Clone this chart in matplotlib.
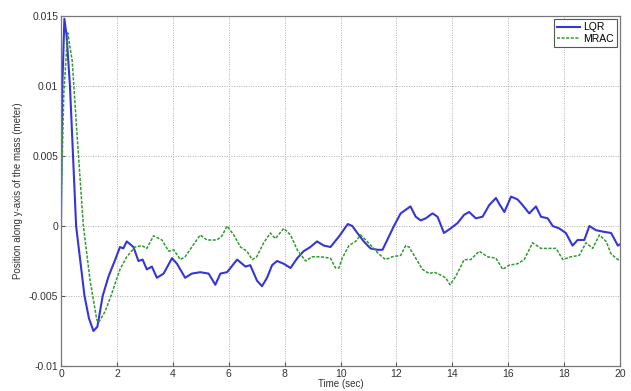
import numpy as np
import matplotlib
matplotlib.use('Agg')
import matplotlib.pyplot as plt
from matplotlib.ticker import FuncFormatter

plt.rcParams['font.family'] = ['Liberation Sans', 'DejaVu Sans']

# LQR response
t_lqr = [0.0, 0.04, 0.12, 0.2, 0.32, 0.54, 0.84, 1.0, 1.16, 1.3, 1.49, 1.7, 1.94,
         2.11, 2.23, 2.35, 2.59, 2.77, 2.92, 3.07, 3.25, 3.43, 3.67, 3.97, 4.15,
         4.44, 4.68, 4.98, 5.28, 5.52, 5.7, 5.94, 6.3, 6.6, 6.77, 7.01, 7.19, 7.37,
         7.55, 7.73, 7.97, 8.21, 8.45, 8.68, 8.92, 9.16, 9.4, 9.64, 9.94, 10.26,
         10.42, 10.6, 10.83, 11.07, 11.32, 11.5, 11.67, 11.91, 12.15, 12.5, 12.69,
         12.87, 13.05, 13.29, 13.47, 13.7, 13.94, 14.18, 14.42, 14.6, 14.84, 15.08,
         15.32, 15.56, 15.67, 15.86, 16.1, 16.33, 16.51, 16.75, 16.99, 17.17, 17.41,
         17.59, 17.82, 18.06, 18.3, 18.48, 18.72, 18.9, 19.14, 19.38, 19.68, 19.92, 20.0]
y_lqr = [0.0, 0.0095, 0.0148, 0.0136, 0.0100, 0.0, -0.0050, -0.0066, -0.0075, -0.0072,
         -0.0050, -0.0036, -0.0024, -0.0015, -0.0016, -0.0011, -0.0015, -0.0025,
         -0.0024, -0.0031, -0.0029, -0.0037, -0.0034, -0.0023, -0.0027, -0.0037,
         -0.0034, -0.0033, -0.0034, -0.0042, -0.0034, -0.0033, -0.0024, -0.0029,
         -0.0028, -0.0039, -0.0043, -0.0037, -0.0028, -0.0025, -0.0027, -0.0030,
         -0.0023, -0.0018, -0.0015, -0.0011, -0.0014, -0.0015, -0.00076, 0.00014,
         0.0, -0.0005, -0.0011, -0.0016, -0.0017, -0.0017, -0.0010, 0.0, 0.0009,
         0.0014, 0.00066, 0.0004, 0.00055, 0.0009, 0.00066, -0.0005, -0.00017,
         0.0002, 0.0008, 0.0010, 0.00055, 0.00066, 0.0015, 0.0020, 0.0016, 0.0010,
         0.0021, 0.0019, 0.0015, 0.0009, 0.0014, 0.00066, 0.00055, 0.0, -0.00017,
         -0.0005, -0.0014, -0.0010, -0.0010, 0.0, -0.0003, -0.0004, -0.0005, -0.0014,
         -0.0013]

# MRAC response
t_mrac = [0.0, 0.1, 0.24, 0.4, 0.56, 0.8, 1.04, 1.28, 1.34, 1.58, 1.82, 2.11, 2.35,
          2.65, 2.89, 3.07, 3.31, 3.61, 3.85, 4.03, 4.27, 4.44, 4.68, 4.98, 5.22,
          5.58, 5.76, 5.94, 6.18, 6.42, 6.65, 6.84, 7.0, 7.25, 7.49, 7.67, 7.97, 8.21,
          8.45, 8.75, 8.98, 9.28, 9.64, 9.82, 9.94, 10.06, 10.3, 10.54, 10.72, 10.9,
          11.14, 11.37, 11.61, 11.85, 12.15, 12.33, 12.45, 12.69, 12.93, 13.17, 13.35,
          13.58, 13.76, 13.92, 14.12, 14.3, 14.42, 14.66, 14.96, 15.26, 15.56, 15.8,
          16.03, 16.33, 16.57, 16.87, 17.17, 17.47, 17.71, 17.95, 18.24, 18.54, 18.78,
          19.02, 19.26, 19.5, 19.68, 19.92, 20.0]
y_mrac = [0.0013, 0.0095, 0.0138, 0.0118, 0.0069, 0.0, -0.0039, -0.0067, -0.0069,
          -0.0061, -0.0048, -0.0031, -0.0022, -0.0015, -0.0014, -0.0016, -0.0007,
          -0.0010, -0.0018, -0.0017, -0.0024, -0.0022, -0.0015, -0.00064, -0.0010,
          -0.0010, -0.0007, 0.0, -0.00064, -0.0015, -0.0018, -0.0024, -0.0022,
          -0.0012, -0.0005, -0.0009, -0.00017, -0.00064, -0.0017, -0.0025, -0.0022,
          -0.0022, -0.0023, -0.0030, -0.0030, -0.0023, -0.0014, -0.0011, -0.00064,
          -0.0010, -0.0015, -0.0020, -0.0024, -0.0022, -0.0021, -0.0014, -0.0015,
          -0.0023, -0.0031, -0.0034, -0.0033, -0.0035, -0.0037, -0.0042, -0.0036,
          -0.0029, -0.0024, -0.0024, -0.0018, -0.0022, -0.0023, -0.0031, -0.0028,
          -0.0027, -0.0024, -0.0012, -0.0016, -0.0016, -0.0016, -0.0024, -0.0022,
          -0.0021, -0.0012, -0.0016, -0.00064, -0.0011, -0.0020, -0.0024, -0.0024]

x_ticks = np.arange(0, 21, 2)
y_ticks = [-0.01, -0.005, 0, 0.005, 0.01, 0.015]

fig = plt.figure(figsize=(6.31, 3.91), dpi=100, facecolor='w')
ax = fig.add_axes([0.0967, 0.064, 0.886, 0.895])

ax.plot(t_lqr, y_lqr, color='#3636d8', lw=1.5, label='LQR')
ax.plot(t_mrac, y_mrac, color='#2f9a2f', lw=1.1, ls=(0, (2, 1)), label='MRAC')

ax.set_xlim(0, 20)
ax.set_ylim(-0.01, 0.015)
ax.set_xticks(x_ticks)
ax.set_yticks(y_ticks)
ax.yaxis.set_major_formatter(FuncFormatter(lambda v, p: '%g' % round(v, 4)))
ax.tick_params(labelsize=7.5, direction='in', length=3, color='#555555',
               labelcolor='#333333', pad=2)
ax.grid(True, ls=(0, (1, 1.5)), color='#b0b0b0', lw=0.7)
for s in ax.spines.values():
    s.set_color('#777777')
    s.set_linewidth(0.9)

ax.set_xlabel('Time (sec)', fontsize=7, color='#333333', labelpad=0)
ax.set_ylabel('Position along y-axis of the mass (meter)', fontsize=7,
              color='#333333', labelpad=4)

leg = ax.legend(loc='upper right', fontsize=7.5, handlelength=2.2,
                borderaxespad=0.3, borderpad=0.3, labelspacing=0.15,
                handletextpad=0.3, fancybox=False, framealpha=1)
leg.get_frame().set_edgecolor('#555555')
leg.get_frame().set_linewidth(0.8)

plt.savefig('out.png', dpi=100)
